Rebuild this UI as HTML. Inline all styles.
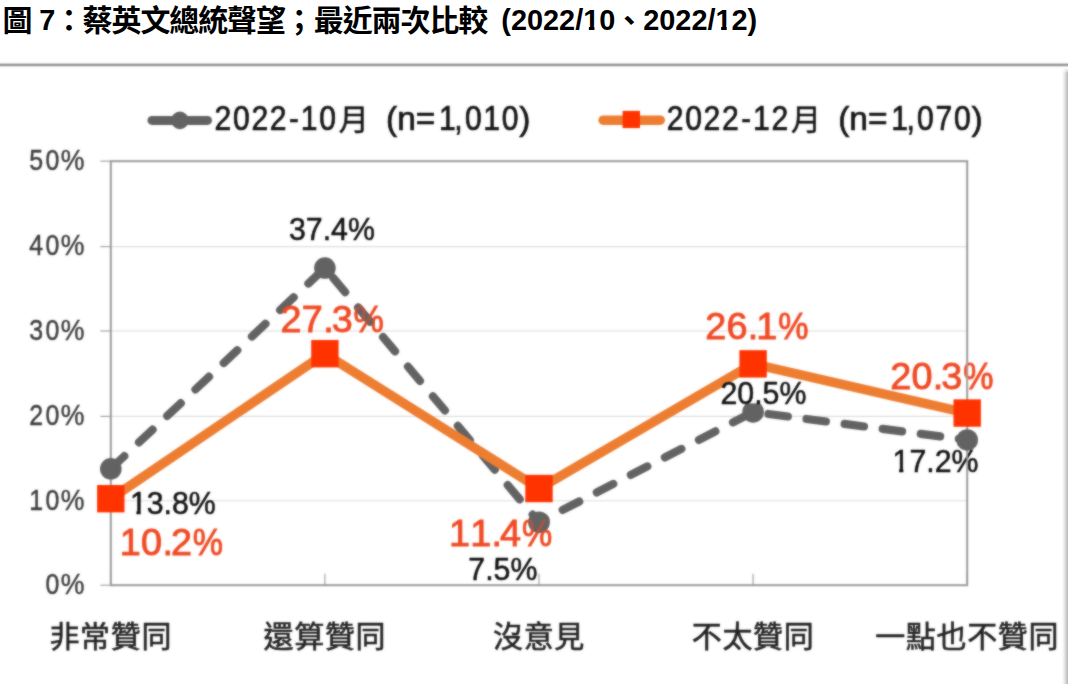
<!DOCTYPE html>
<html lang="zh-Hant"><head><meta charset="utf-8"><title>圖 7：蔡英文總統聲望；最近兩次比較 (2022/10、2022/12)</title>
<style>
html,body{margin:0;padding:0;background:#fff;}
body{width:1068px;height:684px;overflow:hidden;font-family:"Liberation Sans",sans-serif;}
svg{display:block;}
svg text{font-family:"Liberation Sans","Noto Sans CJK TC",sans-serif;font-kerning:none;}
</style></head><body>
<svg width="1068" height="684" viewBox="0 0 1068 684">
<defs>
<filter id="soft" x="-20" y="-20" width="1108" height="724" filterUnits="userSpaceOnUse" color-interpolation-filters="sRGB"><feGaussianBlur in="SourceGraphic" stdDeviation="0.8" result="b"/><feComposite in="SourceGraphic" in2="b" operator="arithmetic" k1="0" k2="0.4" k3="0.6" k4="0"/></filter>
<linearGradient id="sh" x1="0" x2="1" y1="0" y2="0"><stop offset="0" stop-color="#ffffff"/><stop offset="0.3" stop-color="#ededed"/><stop offset="0.65" stop-color="#d3d3d3"/><stop offset="1" stop-color="#b3b3b3"/></linearGradient>
</defs>
<rect width="1068" height="684" fill="#fff"/>
<g filter="url(#soft)">
<rect x="-10" y="63.6" width="1088" height="2.6" fill="#939393"/>
<rect x="1062.3" y="72" width="5.7" height="622" fill="url(#sh)"/><rect x="1067.9" y="72" width="12" height="622" fill="#b3b3b3"/>
<rect x="1062.3" y="69" width="5.7" height="3" fill="url(#sh)" opacity="0.5"/>
<line x1="110.8" x2="967.2" y1="246.6" y2="246.6" stroke="#dedede" stroke-width="1.1"/>
<line x1="110.8" x2="967.2" y1="331" y2="331" stroke="#dedede" stroke-width="1.1"/>
<line x1="110.8" x2="967.2" y1="416.4" y2="416.4" stroke="#dedede" stroke-width="1.1"/>
<line x1="110.8" x2="967.2" y1="500.8" y2="500.8" stroke="#dedede" stroke-width="1.1"/>
<line x1="100.3" x2="110.8" y1="161.2" y2="161.2" stroke="#a4a4a4" stroke-width="1.2"/>
<line x1="100.3" x2="110.8" y1="246.6" y2="246.6" stroke="#a4a4a4" stroke-width="1.2"/>
<line x1="100.3" x2="110.8" y1="331" y2="331" stroke="#a4a4a4" stroke-width="1.2"/>
<line x1="100.3" x2="110.8" y1="416.4" y2="416.4" stroke="#a4a4a4" stroke-width="1.2"/>
<line x1="100.3" x2="110.8" y1="500.8" y2="500.8" stroke="#a4a4a4" stroke-width="1.2"/>
<line x1="100.3" x2="110.8" y1="585.2" y2="585.2" stroke="#a4a4a4" stroke-width="1.2"/>
<line x1="110.8" x2="110.8" y1="573.7" y2="585.2" stroke="#a4a4a4" stroke-width="1.2"/>
<line x1="324.9" x2="324.9" y1="573.7" y2="585.2" stroke="#a4a4a4" stroke-width="1.2"/>
<line x1="539" x2="539" y1="573.7" y2="585.2" stroke="#a4a4a4" stroke-width="1.2"/>
<line x1="753.1" x2="753.1" y1="573.7" y2="585.2" stroke="#a4a4a4" stroke-width="1.2"/>
<line x1="967.2" x2="967.2" y1="573.7" y2="585.2" stroke="#a4a4a4" stroke-width="1.2"/>
<rect x="110.8" y="161.2" width="856.4" height="424" fill="none" stroke="#9a9a9a" stroke-width="2"/>
<g><text transform="translate(29.2 170) scale(0.86 1.0)" font-size="29.0" fill="#3c3c3c" stroke="#3c3c3c" stroke-width="0.45" letter-spacing="2.7">50</text><text transform="translate(60.7 170) scale(0.92 1.0)" font-size="29.0" fill="#3c3c3c" stroke="#3c3c3c" stroke-width="0.45">%</text></g>
<g><text transform="translate(29.2 255.4) scale(0.86 1.0)" font-size="29.0" fill="#3c3c3c" stroke="#3c3c3c" stroke-width="0.45" letter-spacing="2.7">40</text><text transform="translate(60.7 255.4) scale(0.92 1.0)" font-size="29.0" fill="#3c3c3c" stroke="#3c3c3c" stroke-width="0.45">%</text></g>
<g><text transform="translate(29.2 339.8) scale(0.86 1.0)" font-size="29.0" fill="#3c3c3c" stroke="#3c3c3c" stroke-width="0.45" letter-spacing="2.7">30</text><text transform="translate(60.7 339.8) scale(0.92 1.0)" font-size="29.0" fill="#3c3c3c" stroke="#3c3c3c" stroke-width="0.45">%</text></g>
<g><text transform="translate(29.2 425.2) scale(0.86 1.0)" font-size="29.0" fill="#3c3c3c" stroke="#3c3c3c" stroke-width="0.45" letter-spacing="2.7">20</text><text transform="translate(60.7 425.2) scale(0.92 1.0)" font-size="29.0" fill="#3c3c3c" stroke="#3c3c3c" stroke-width="0.45">%</text></g>
<g><text transform="translate(29.2 509.6) scale(0.86 1.0)" font-size="29.0" fill="#3c3c3c" stroke="#3c3c3c" stroke-width="0.45" letter-spacing="2.7">10</text><text transform="translate(60.7 509.6) scale(0.92 1.0)" font-size="29.0" fill="#3c3c3c" stroke="#3c3c3c" stroke-width="0.45">%</text></g>
<g><text transform="translate(45.4 594) scale(0.86 1.0)" font-size="29.0" fill="#3c3c3c" stroke="#3c3c3c" stroke-width="0.45" letter-spacing="2.7">0</text><text transform="translate(60.7 594) scale(0.92 1.0)" font-size="29.0" fill="#3c3c3c" stroke="#3c3c3c" stroke-width="0.45">%</text></g>
<line x1="110.8" y1="468.78" x2="324.9" y2="268.05" stroke="#626262" stroke-width="8.2" stroke-linecap="round" stroke-dasharray="18.5 20.2" stroke-dashoffset="-0"/>
<line x1="324.9" y1="268.05" x2="539" y2="522.2" stroke="#626262" stroke-width="8.2" stroke-linecap="round" stroke-dasharray="18.5 20.2" stroke-dashoffset="-12.9"/>
<line x1="539" y1="522.2" x2="753.1" y2="411.96" stroke="#626262" stroke-width="8.2" stroke-linecap="round" stroke-dasharray="18.5 19.8" stroke-dashoffset="-26.7"/>
<line x1="753.1" y1="411.96" x2="967.2" y2="439.94" stroke="#626262" stroke-width="8.2" stroke-linecap="round" stroke-dasharray="19.5 18.9" stroke-dashoffset="-15.5"/>
<circle cx="110.8" cy="468.78" r="10.8" fill="#626262"/>
<circle cx="324.9" cy="268.05" r="10.8" fill="#626262"/>
<circle cx="539" cy="522.2" r="10.8" fill="#626262"/>
<circle cx="753.1" cy="411.96" r="10.8" fill="#626262"/>
<circle cx="967.2" cy="439.94" r="10.8" fill="#626262"/>
<rect x="738" y="396" width="32" height="7.4" fill="#fff"/>
<polyline points="110.8,498.7 324.9,353.7 539,488.53 753.1,363.87 967.2,413.06" fill="none" stroke="#ed7d31" stroke-width="9.5" stroke-linejoin="round" stroke-linecap="round"/>
<rect x="97.1" y="485" width="27.4" height="27.4" fill="#ff3300"/>
<rect x="311.2" y="340" width="27.4" height="27.4" fill="#ff3300"/>
<rect x="525.3" y="474.83" width="27.4" height="27.4" fill="#ff3300"/>
<rect x="739.4" y="350.17" width="27.4" height="27.4" fill="#ff3300"/>
<rect x="953.5" y="399.36" width="27.4" height="27.4" fill="#ff3300"/>
<text transform="translate(289.0 239.5) scale(1 1.04)" font-size="30.3" fill="#111" stroke="#111" stroke-width="0.5">37.4%</text>
<text transform="translate(129.9 514.0) scale(1 1.04)" font-size="30.3" fill="#111" stroke="#111" stroke-width="0.5">13.8%</text>
<text transform="translate(468.3 580.4) scale(1 1.04)" font-size="30.3" fill="#111" stroke="#111" stroke-width="0.5">7.5%</text>
<text transform="translate(720.5 403.9) scale(1 1.04)" font-size="30.3" fill="#111" stroke="#111" stroke-width="0.5">20.5%</text>
<text transform="translate(892.6 472.0) scale(1 1.04)" font-size="30.3" fill="#111" stroke="#111" stroke-width="0.5">17.2%</text>
<rect x="131" y="510.44" width="5.4" height="4.96" fill="#fff"/><rect x="140.7" y="510.44" width="5.86" height="4.96" fill="#fff"/>
<rect x="893.7" y="468.44" width="5.4" height="4.96" fill="#fff"/><rect x="903.4" y="468.44" width="5.86" height="4.96" fill="#fff"/>
<g><text transform="translate(280.5 331.6)" font-size="37.8" fill="#f04a24" stroke="#f04a24" stroke-width="0.9" letter-spacing="0.3">27.<tspan dx="-2.3">3</tspan></text><text transform="translate(353.5 331.6) scale(0.9 1.0)" font-size="37.8" fill="#f04a24" stroke="#f04a24" stroke-width="0.9">%</text></g>
<g><text transform="translate(119.8 554.8)" font-size="37.8" fill="#f04a24" stroke="#f04a24" stroke-width="0.9" letter-spacing="0.3">10.<tspan dx="-2.3">2</tspan></text><text transform="translate(192.8 554.8) scale(0.9 1.0)" font-size="37.8" fill="#f04a24" stroke="#f04a24" stroke-width="0.9">%</text></g>
<g><text transform="translate(448.9 545.5)" font-size="37.8" fill="#f04a24" stroke="#f04a24" stroke-width="0.9" letter-spacing="0.3">11.<tspan dx="-2.3">4</tspan></text><text transform="translate(521.9 545.5) scale(0.9 1.0)" font-size="37.8" fill="#f04a24" stroke="#f04a24" stroke-width="0.9">%</text></g>
<g><text transform="translate(705.2 339.4)" font-size="37.8" fill="#f04a24" stroke="#f04a24" stroke-width="0.9" letter-spacing="0.3">26.<tspan dx="-2.3">1</tspan></text><text transform="translate(778.2 339.4) scale(0.9 1.0)" font-size="37.8" fill="#f04a24" stroke="#f04a24" stroke-width="0.9">%</text></g>
<g><text transform="translate(890.2 388.7)" font-size="37.8" fill="#f04a24" stroke="#f04a24" stroke-width="0.9" letter-spacing="0.3">20.<tspan dx="-2.3">3</tspan></text><text transform="translate(963.2 388.7) scale(0.9 1.0)" font-size="37.8" fill="#f04a24" stroke="#f04a24" stroke-width="0.9">%</text></g>
<clipPath id="c1"><rect x="279" y="300" width="110" height="34"/></clipPath><clipPath id="c2"><rect x="447" y="514" width="110" height="34"/></clipPath>
<g opacity="0.5"><line clip-path="url(#c1)" x1="324.9" y1="268.05" x2="539" y2="522.2" stroke="#626262" stroke-width="8.2" stroke-linecap="round" stroke-dasharray="18.5 20.2" stroke-dashoffset="-12.9"/><circle clip-path="url(#c2)" cx="539" cy="522.2" r="10.8" fill="#626262"/></g>
<path d="M967.2,361 V392 M967.2,451 V474" stroke="#a9a9a9" stroke-width="1.9" fill="none" opacity="0.8"/>
<line x1="152" x2="207.5" y1="120.4" y2="120.4" stroke="#626262" stroke-width="9" stroke-linecap="round"/>
<circle cx="179.9" cy="120.4" r="8.8" fill="#626262"/>
<line x1="603.2" x2="660.2" y1="120.2" y2="120.2" stroke="#ed7d31" stroke-width="9.6" stroke-linecap="round"/>
<rect x="622.6" y="110.9" width="17.4" height="17.2" fill="#ff3300"/>
<g><text transform="translate(214.6 130.3) scale(0.88 1.0)" font-size="34.2" fill="#141414" stroke="#141414" stroke-width="0.7" letter-spacing="1.9">2022</text><text transform="translate(289 130.3) scale(0.86 1.0)" font-size="34.2" fill="#141414" stroke="#141414" stroke-width="0.7">-</text><text transform="translate(300.8 130.3) scale(0.88 1.0)" font-size="34.2" fill="#141414" stroke="#141414" stroke-width="0.7" letter-spacing="1.9">10</text><text x="338.7" y="129.7" font-size="30" fill="#141414" stroke="#141414" stroke-width="0.5">月</text><text transform="translate(386 130.3)" font-size="33.5" fill="#141414" stroke="#141414" stroke-width="0.7">(n=</text><text transform="translate(439.1 130.3) scale(0.88 1.0)" font-size="34.2" fill="#141414" stroke="#141414" stroke-width="0.7">1</text><text transform="translate(454.3 130.3) scale(0.88 1.0)" font-size="34.2" fill="#141414" stroke="#141414" stroke-width="0.7">,</text><text transform="translate(464.9 130.3) scale(0.88 1.0)" font-size="34.2" fill="#141414" stroke="#141414" stroke-width="0.7" letter-spacing="1.9">010</text><text transform="translate(519.2 130.3)" font-size="33.5" fill="#141414" stroke="#141414" stroke-width="0.7">)</text></g>
<g><text transform="translate(666.8 130.3) scale(0.88 1.0)" font-size="34.2" fill="#141414" stroke="#141414" stroke-width="0.7" letter-spacing="1.9">2022</text><text transform="translate(741.2 130.3) scale(0.86 1.0)" font-size="34.2" fill="#141414" stroke="#141414" stroke-width="0.7">-</text><text transform="translate(753 130.3) scale(0.88 1.0)" font-size="34.2" fill="#141414" stroke="#141414" stroke-width="0.7" letter-spacing="1.9">12</text><text x="790.9" y="129.7" font-size="30" fill="#141414" stroke="#141414" stroke-width="0.5">月</text><text transform="translate(838.2 130.3)" font-size="33.5" fill="#141414" stroke="#141414" stroke-width="0.7">(n=</text><text transform="translate(891.3 130.3) scale(0.88 1.0)" font-size="34.2" fill="#141414" stroke="#141414" stroke-width="0.7">1</text><text transform="translate(906.5 130.3) scale(0.88 1.0)" font-size="34.2" fill="#141414" stroke="#141414" stroke-width="0.7">,</text><text transform="translate(917.1 130.3) scale(0.88 1.0)" font-size="34.2" fill="#141414" stroke="#141414" stroke-width="0.7" letter-spacing="1.9">070</text><text transform="translate(971.4 130.3)" font-size="33.5" fill="#141414" stroke="#141414" stroke-width="0.7">)</text></g>
<text x="49.46" y="646.6" font-size="30" letter-spacing="0.67" fill="#222" stroke="#222" stroke-width="0.6">非常贊同</text>
<text x="263.56" y="646.6" font-size="30" letter-spacing="0.67" fill="#222" stroke="#222" stroke-width="0.6">還算贊同</text>
<text x="493" y="646.6" font-size="30" letter-spacing="0.67" fill="#222" stroke="#222" stroke-width="0.6">沒意見</text>
<text x="691.76" y="646.6" font-size="30" letter-spacing="0.67" fill="#222" stroke="#222" stroke-width="0.6">不太贊同</text>
<text x="875.19" y="646.6" font-size="30" letter-spacing="0.67" fill="#222" stroke="#222" stroke-width="0.6">一點也不贊同</text>
</g>
<g>
<text x="2.4" y="31" font-size="30" font-weight="bold" fill="#000">圖</text>
<text x="39.2" y="0" font-size="28.9" font-weight="bold" fill="#000" transform="translate(0 29.5)">7</text>
<text x="69" y="31" font-size="30" font-weight="bold" fill="#000" text-anchor="middle">：</text>
<text x="82.6" y="31" font-size="30" font-weight="bold" letter-spacing="-1.1" fill="#000">蔡英文總統聲望</text>
<text x="299.3" y="31" font-size="30" font-weight="bold" fill="#000" text-anchor="middle">；</text>
<text x="313.8" y="31" font-size="30" font-weight="bold" letter-spacing="-1.1" fill="#000">最近兩次比較</text>
<text x="501.3" y="0" font-size="28.9" font-weight="bold" fill="#000" transform="translate(0 29.5)">(2022/10</text>
<text x="629.3" y="31" font-size="30" font-weight="bold" fill="#000" text-anchor="middle">、</text>
<text x="643.2" y="0" font-size="28.9" font-weight="bold" fill="#000" transform="translate(0 29.5)">2022/12)</text>
<rect x="583.85" y="25.35" width="5.01" height="5.55" fill="#fff"/><rect x="594.45" y="25.35" width="5.34" height="5.55" fill="#fff"/>
<rect x="716.13" y="25.35" width="5.01" height="5.55" fill="#fff"/><rect x="726.73" y="25.35" width="5.34" height="5.55" fill="#fff"/>
</g>
</svg>
</body></html>
